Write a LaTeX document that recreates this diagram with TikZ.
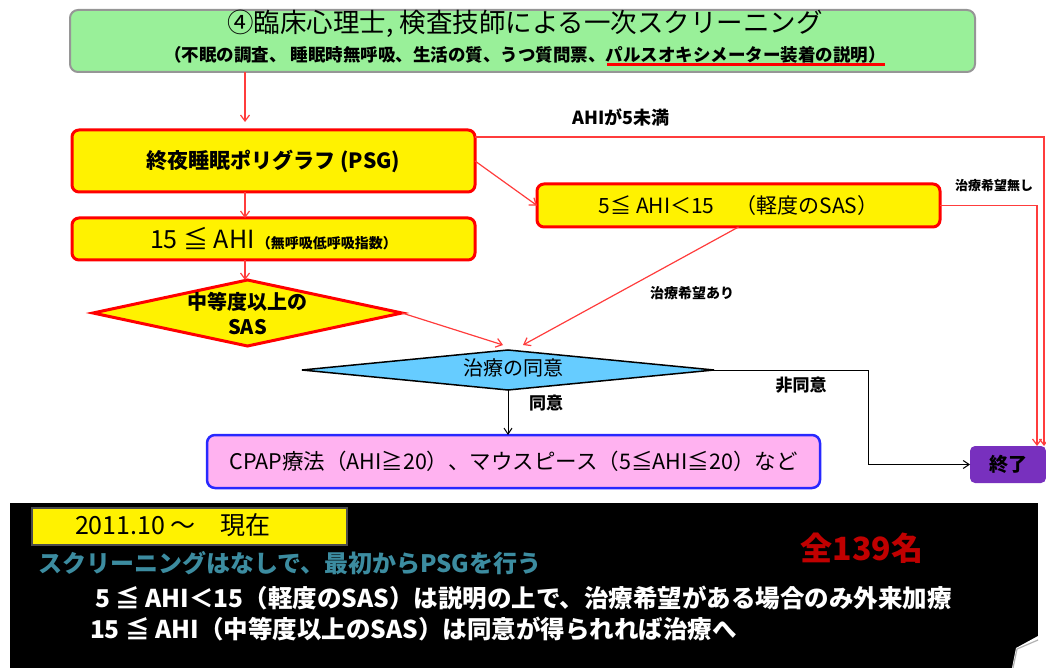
\documentclass[tikz,border=0pt]{standalone}
\usepackage{fontspec}
\setmainfont{Noto Sans CJK JP}
\usetikzlibrary{arrows.meta,shapes.geometric,calc}
\definecolor{boxgreen}{RGB}{153,240,153}
\definecolor{boxgray}{RGB}{150,150,150}
\definecolor{lnred}{RGB}{255,60,60}
\definecolor{dblue}{RGB}{102,204,255}
\definecolor{pinkf}{RGB}{255,178,240}
\definecolor{bordblue}{RGB}{40,40,255}
\definecolor{purp}{RGB}{120,48,190}
\definecolor{darkred}{RGB}{192,0,0}
\definecolor{tealtxt}{RGB}{60,140,160}
\begin{document}
\begin{tikzpicture}[x=1pt,y=-1pt,
  every node/.style={inner sep=0pt, outer sep=0pt},
  ybox/.style={draw=red, line width=3pt, fill=yellow, rounded corners=7pt, minimum width=403pt},
  redarrow/.style={draw=lnred, line width=1.2pt, -{Straight Barb[length=6pt,width=9pt]}},
  blkarrow/.style={draw=black, line width=1pt, -{Straight Barb[length=6pt,width=8pt]}},
  lbl/.style={font=\bfseries\fontsize{17}{20}\selectfont},
  small/.style={font=\bfseries\fontsize{13}{15}\selectfont},
  wtxt/.style={anchor=west, text=white, font=\bfseries\fontsize{24.5}{26}\selectfont}]
\clip (0,0) rectangle (1046,668);
\coordinate (col) at (245,0);
% top box
\node[draw=boxgray, line width=2pt, fill=boxgreen, rounded corners=8pt, minimum width=905pt, minimum height=62pt] (screen) at (522.5,41) {};
\node[font=\fontsize{26.5}{28}\selectfont] (title) at (525,24) {④臨床心理士, 検査技師による一次スクリーニング};
\node[font=\bfseries\fontsize{17.5}{20}\selectfont] (sub) at (525,55) {（不眠の調査、 睡眠時無呼吸、生活の質、うつ質問票、パルスオキシメーター装着の説明）};
\draw[red, line width=3pt] (607,65) -- (885,65);
% boxes
\node[ybox, minimum height=62pt, font=\bfseries\fontsize{21}{24}\selectfont] (psg) at (273.5,161) {終夜睡眠ポリグラフ (PSG)};
\node[ybox, minimum height=43pt, font=\fontsize{21}{23}\selectfont] (mild) at (738.5,205.5) {5≦ AHI＜15　（軽度のSAS）};
\node[ybox, minimum height=42pt] (ahi) at (273.5,239) {{\fontsize{25}{27}\selectfont 15 ≦ AHI} {\bfseries\fontsize{14}{16}\selectfont （無呼吸低呼吸指数）}};
\node[diamond, draw=red, line width=3pt, fill=yellow, minimum width=309pt, minimum height=66pt] (sas) at (247.5,313) {};
\node[font=\bfseries\fontsize{20}{25}\selectfont, align=center] (sastxt) at (sas.center) {中等度以上の\\SAS};
\node[diamond, draw=black, line width=1.5pt, fill=dblue, minimum width=412pt, minimum height=40pt] (consent) at (508,370) {};
\node[font=\fontsize{20}{22}\selectfont] (consenttxt) at (513,368) {治療の同意};
\node[draw=bordblue, line width=2.5pt, fill=pinkf, rounded corners=8pt, minimum width=613pt, minimum height=53pt, font=\fontsize{21.5}{23}\selectfont] (cpap) at (513.5,461.5) {CPAP療法（AHI≧20）、マウスピース（5≦AHI≦20）など};
\node[fill=purp, rounded corners=5pt, minimum width=76pt, minimum height=37pt, font=\bfseries\fontsize{19}{22}\selectfont] (end) at (1008,464.5) {終了};
% connectors
\draw[redarrow] (screen.south -| col) -- ([yshift=8pt]psg.north -| col);
\draw[redarrow] (psg.south -| col) -- (ahi.north -| col);
\draw[redarrow] (ahi.south -| col) -- (sas.north -| col);
\draw[redarrow] (psg.east) -- (mild.west);
\draw[redarrow] (sas.east) -- ([xshift=-5pt,yshift=5pt]consent.north);
\draw[redarrow] (mild.south) -- ([xshift=15pt,yshift=5pt]consent.north);
\draw[redarrow] ([yshift=24pt]psg.east) -| ([xshift=36pt]end.north);
\draw[redarrow] (mild.east) -| ([xshift=29pt]end.north);
\draw[blkarrow] (consent.south) -- (consent.south |- cpap.north);
\draw[blkarrow] (consent.east) -- ++(154,0) |- (end.west);
% labels
\node[font=\bfseries\fontsize{18}{20}\selectfont] (lt5) at (621,117) {AHIが5未満};
\node[small] (nohope) at (994,186) {治療希望無し};
\node[font=\bfseries\fontsize{14}{16}\selectfont] (hope) at (692,293) {治療希望あり};
\node[lbl] (agree) at (546,403) {同意};
\node[lbl] (disagree) at (801,385) {非同意};
% bottom panel
\fill[black] (10,503) rectangle (1038,668);
\node[draw=gray!60!black, line width=2pt, fill=yellow, minimum width=315pt, minimum height=37pt] (period) at (189.5,526.5) {};
\node[anchor=west, font=\fontsize{25}{27}\selectfont] (periodtxt) at (75,525) {2011.10 ～　現在};
\node[font=\bfseries\fontsize{32}{34}\selectfont, text=darkred] (total) at (862,548) {全139名};
\node[anchor=west, text=tealtxt, font=\bfseries\fontsize{24}{26}\selectfont] (t1) at (38,563) {スクリーニングはなしで、最初からPSGを行う};
\node[wtxt] (t2) at (95,598) {5 ≦ AHI＜15（軽度のSAS）は説明の上で、治療希望がある場合のみ外来加療};
\node[wtxt] (t3) at (90,629) {15 ≦ AHI（中等度以上のSAS）は同意が得られれば治療へ};
\fill[white] (1038,636) -- (1016,648) -- (1012,668) -- (1046,668) -- (1046,636) -- cycle;
\draw[gray!60, line width=1.2pt] (1013,668) -- (1017,649) -- (1038,640);
\end{tikzpicture}
\end{document}
